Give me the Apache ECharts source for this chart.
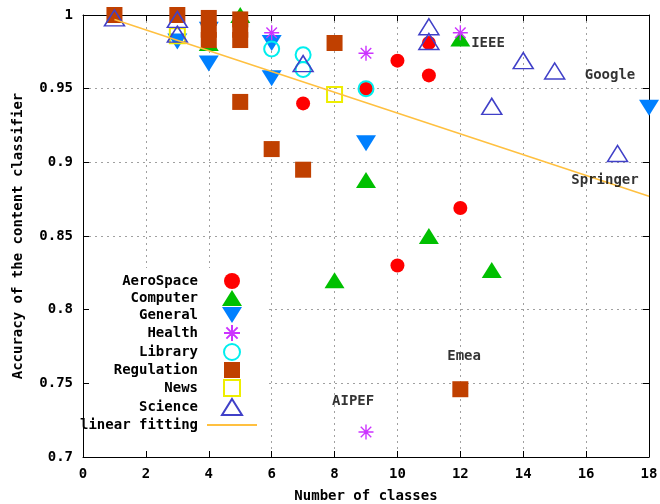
<!DOCTYPE html>
<html>
<head>
<meta charset="utf-8">
<script src="https://cdn.jsdelivr.net/npm/echarts@6/dist/echarts.min.js"></script>
<style>html,body{margin:0;padding:0;background:#fff}#c{width:660px;height:504px}</style>
</head>
<body>
<div id="c"></div>
<script>
const xTicks = [0, 2, 4, 6, 8, 10, 12, 14, 16, 18];
const yTicks = [0.7, 0.75, 0.8, 0.85, 0.9, 0.95, 1];

const aeroSpace = [[7,0.940],[9,0.950],[10,0.969],[11,0.959],[11,0.981],[12,0.869],[10,0.830]];
const computer = [[9,0.888],[11,0.850],[13,0.827],[8,0.820],[12,0.984],[4,0.981],[5,1.0]];
const general = [[3,0.982],[4,0.967],[4,0.990],[6,0.957],[6,0.981],[9,0.913],[18,0.937]];
const health = [[6,0.988],[9,0.974],[12,0.988],[9,0.717]];
const library = [[6,0.977],[7,0.973],[7,0.963],[9,0.950]];
const regulation = [[1,1.0],[3,1.0],[4,0.998],[4,0.990],[4,0.983],[5,0.997],[5,0.990],[5,0.983],[5,0.941],[8,0.981],[6,0.909],[7,0.895],[12,0.746]];
const news = [[3,0.986],[8,0.946]];
const science = [[1,0.998],[3,0.997],[3,0.987],[7,0.967],[11,0.992],[11,0.982],[14,0.969],[15,0.962],[13,0.938],[17,0.906]];
const linearFit = [[1,0.997],[18,0.877]];

const noteNames = ['IEEE', 'Google', 'Springer', 'Emea', 'AIPEF'];
const noteX = [12.88, 16.76, 16.6, 12.12, 8.59];
const noteY = [0.981, 0.959, 0.888, 0.768, 0.738];

const FONT = 'DejaVu Sans Mono';
const txt = {fontFamily: FONT, fontWeight: 'bold', fontSize: 14, color: '#000'};

const upTri = 'path://M10,0 L20,16 L0,16 Z';
const downTri = 'path://M0,0 L20,0 L10,16 Z';
const square = 'path://M0,0 L16,0 L16,16 L0,16 Z';
const asterisk = 'path://M6,0 L6,12 M0,6 L12,6 M1.8,1.8 L10.2,10.2 M10.2,1.8 L1.8,10.2 M5.4,6 A0.6,0.6 0 1 0 6.6,6 A0.6,0.6 0 1 0 5.4,6';
const lineIcon = 'path://M0,0 L50,0 L50,2 L0,2 Z';

const chart = echarts.init(document.getElementById('c'), null, {renderer: 'canvas'});

function sc(name, data, symbol, size, itemStyle) {
  return {name, type: 'scatter', data, symbol, symbolSize: size,
    itemStyle: Object.assign({opacity: 1}, itemStyle), xAxisIndex: 0, yAxisIndex: 0};
}
const frameTick = {show: true, inside: true, length: 6, lineStyle: {color: '#000', width: 1}};
const frameLine = {show: true, onZero: false, lineStyle: {color: '#000', width: 1}};
const gridBox = {left: 83, right: 11, top: 15, bottom: 47, show: false, containLabel: false, outerBoundsMode: 'none'};
const xr = {min: xTicks[0], max: xTicks[xTicks.length-1], interval: 2};
const yr = {min: yTicks[0], max: yTicks[yTicks.length-1], interval: 0.05};

const option = {
  animation: false,
  backgroundColor: '#fff',
  grid: [Object.assign({}, gridBox), Object.assign({z: 10}, gridBox)],
  xAxis: [Object.assign({
    type: 'value', gridIndex: 0,
    name: 'Number of classes', nameLocation: 'middle', nameGap: 32, nameTextStyle: txt,
    axisLine: {show: false}, axisTick: {show: false},
    axisLabel: Object.assign({margin: 10}, txt),
    splitLine: {show: true, lineStyle: {color: '#a0a0a0', type: [2, 4], width: 1}}
  }, xr), Object.assign({
    type: 'value', gridIndex: 0, position: 'top',
    axisLine: frameLine, axisTick: frameTick, axisLabel: {show: false}, splitLine: {show: false}
  }, xr), Object.assign({
    type: 'value', gridIndex: 1, position: 'bottom', z: 10,
    axisLine: frameLine, axisTick: frameTick, axisLabel: {show: false}, splitLine: {show: false}
  }, xr)],
  yAxis: [Object.assign({
    type: 'value', gridIndex: 0, position: 'left',
    name: 'Accuracy of the content classifier', nameLocation: 'middle', nameGap: 58, nameTextStyle: txt,
    axisLine: {show: false}, axisTick: {show: false},
    axisLabel: Object.assign({margin: 10, formatter: v => String(+v.toFixed(2))}, txt),
    splitLine: {show: true, lineStyle: {color: '#a0a0a0', type: [2, 4], width: 1}}
  }, yr), Object.assign({
    type: 'value', gridIndex: 0, position: 'right',
    axisLine: frameLine, axisTick: frameTick, axisLabel: {show: false}, splitLine: {show: false}
  }, yr), Object.assign({
    type: 'value', gridIndex: 1, position: 'left', z: 10,
    axisLine: frameLine, axisTick: frameTick, axisLabel: {show: false}, splitLine: {show: false}
  }, yr)],
  legend: {
    orient: 'vertical', align: 'right', left: 80, top: 268,
    padding: [5, 8, 16, 0], backgroundColor: '#fff',
    itemWidth: 50, itemHeight: 16, itemGap: 1,
    textStyle: Object.assign({padding: [0, 4, 0, 0], lineHeight: 16}, txt),
    data: ['AeroSpace','Computer','General','Health','Library','Regulation','News','Science',
      {name: 'linear fitting', icon: lineIcon}]
  },
  series: [
    sc('AeroSpace', aeroSpace, 'circle', 14, {color: '#ff0000'}),
    sc('Computer', computer, upTri, [20, 16], {color: '#00c000'}),
    sc('General', general, downTri, [20, 16], {color: '#0080ff'}),
    sc('Health', health, asterisk, 15, {color: 'rgba(0,0,0,0)', borderColor: '#cc33ff', borderWidth: 1.4}),
    sc('Library', library, 'circle', 15, {color: 'rgba(0,0,0,0)', borderColor: '#00eeee', borderWidth: 2}),
    sc('Regulation', regulation, square, 16, {color: '#c04000'}),
    sc('News', news, square, 15, {color: 'rgba(0,0,0,0)', borderColor: '#eeee00', borderWidth: 2}),
    sc('Science', science, upTri, [20, 16], {color: 'rgba(0,0,0,0)', borderColor: '#4040c8', borderWidth: 1.5}),
    {name: 'linear fitting', type: 'line', data: linearFit, xAxisIndex: 0, yAxisIndex: 0, symbol: 'none',
     lineStyle: {color: '#ffc040', width: 1.5}, itemStyle: {color: '#ffc040'}, z: 3},
    {name: 'notes', type: 'scatter', xAxisIndex: 0, yAxisIndex: 0, silent: true, symbolSize: 1,
     itemStyle: {color: 'rgba(0,0,0,0)'},
     data: noteNames.map((n, i) => ({name: n, value: [noteX[i], noteY[i]]})),
     label: Object.assign({show: true, position: 'inside', formatter: p => p.name}, txt), z: 5}
  ]
};
chart.setOption(option);
</script>
</body>
</html>
